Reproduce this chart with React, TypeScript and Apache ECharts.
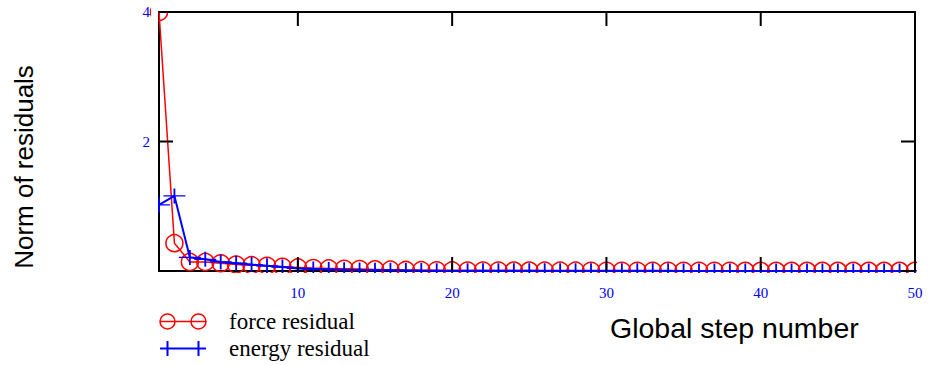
import React, { useEffect, useRef } from "react";
import * as echarts from "echarts";

const steps = [1, 2, 3, 4, 5, 6, 7, 8, 9, 10, 11, 12, 13, 14, 15, 16, 17, 18, 19, 20, 21, 22, 23, 24, 25, 26, 27, 28, 29, 30, 31, 32, 33, 34, 35, 36, 37, 38, 39, 40, 41, 42, 43, 44, 45, 46, 47, 48, 49, 50];

const forceResidual = [
  4.0, 0.43, 0.14, 0.14, 0.12, 0.1, 0.09, 0.08, 0.065, 0.055,
  0.045, 0.04, 0.035, 0.03, 0.025, 0.02, 0.016, 0.013, 0.011, 0.009,
  0.008, 0.007, 0.007, 0.006, 0.006, 0.005, 0.005, 0.005, 0.004, 0.004,
  0.004, 0.004, 0.003, 0.003, 0.003, 0.003, 0.003, 0.003, 0.002, 0.002,
  0.002, 0.002, 0.002, 0.002, 0.002, 0.002, 0.002, 0.002, 0.002, 0.002,
];

const energyResidual = [
  1.02, 1.16, 0.21, 0.18, 0.14, 0.12, 0.1, 0.08, 0.06, 0.04,
  0.03, 0.025, 0.02, 0.015, 0.012, 0.01, 0.008, 0.006, 0.005, 0.004,
  0.004, 0.003, 0.003, 0.003, 0.003, 0.002, 0.002, 0.002, 0.002, 0.002,
  0.002, 0.002, 0.002, 0.002, 0.001, 0.001, 0.001, 0.001, 0.001, 0.001,
  0.001, 0.001, 0.001, 0.001, 0.001, 0.001, 0.001, 0.001, 0.001, 0.001,
];

const xMin = 1;
const xMax = 50;
const yMin = 0;
const yMax = 4;
const xTickValues = [10, 20, 30, 40, 50];
const yTickValues = [0, 2, 4];
const yLabelValues = [2, 4];
const seriesNames = ["force residual", "energy residual"];
const xAxisTitle = "Global step number";
const yAxisTitle = "Norm of residuals";

const RED = "#ff0000";
const BLUE = "#0000ff";
const SERIF = "'Liberation Serif', 'Times New Roman', serif";
const SANS = "'Liberation Sans', Arial, sans-serif";
const TICK_LEN = 14;

const PLUS = "path://M0,7.5L22,7.5M11,0L11,15";
const LEGEND_RED =
  "path://M0,7.5L46,7.5M15,7.5A7.5,7.5,0,1,1,0,7.5A7.5,7.5,0,1,1,15,7.5M46,7.5A7.5,7.5,0,1,1,31,7.5A7.5,7.5,0,1,1,46,7.5M64,7.5L64.01,7.5";
const LEGEND_BLUE = "path://M0,7.5L46,7.5M7.5,0L7.5,15M38.5,0L38.5,15M64,7.5L64.01,7.5";

export default function App() {
  const ref = useRef<HTMLDivElement>(null);

  useEffect(() => {
    if (!ref.current) return;
    const chart = echarts.init(ref.current, undefined, { renderer: "svg" });

    const axisLine = { show: true, onZero: false, lineStyle: { color: "#000", width: 2 } };
    const xAxisBase = {
      type: "value" as const,
      min: xMin,
      max: xMax,
      splitLine: { show: false },
      axisLine,
      axisTick: { show: false },
    };
    const yAxisBase = {
      type: "value" as const,
      min: yMin,
      max: yMax,
      interval: 2,
      splitLine: { show: false },
      axisLine,
      axisTick: { show: false },
    };

    const tickLine = (x1: number, y1: number, x2: number, y2: number) => ({
      type: "line",
      shape: { x1, y1, x2, y2 },
      style: { stroke: "#000", lineWidth: 2 },
    });

    const option: any = {
      animation: false,
      backgroundColor: "#fff",
      grid: { left: 159, right: 15, top: 12, bottom: 94, containLabel: false },
      xAxis: [
        {
          ...xAxisBase,
          position: "bottom",
          axisLabel: {
            show: true,
            customValues: xTickValues,
            margin: 14,
            color: BLUE,
            fontSize: 15,
            fontFamily: SERIF,
          },
        },
        { ...xAxisBase, position: "top", axisLabel: { show: false } },
      ],
      yAxis: [
        {
          ...yAxisBase,
          position: "left",
          axisLabel: {
            show: true,
            customValues: yLabelValues,
            margin: 9,
            color: BLUE,
            fontSize: 15,
            fontFamily: SERIF,
          },
        },
        { ...yAxisBase, position: "right", axisLabel: { show: false } },
      ],
      legend: {
        orient: "vertical",
        left: 159,
        top: 310,
        padding: 0,
        itemGap: 4,
        itemWidth: 64,
        itemHeight: 15,
        textStyle: { fontFamily: SERIF, fontSize: 23, color: "#000" },
        data: [
          {
            name: seriesNames[0],
            icon: LEGEND_RED,
            itemStyle: { color: "rgba(0,0,0,0)", borderColor: RED, borderWidth: 1.5 },
          },
          {
            name: seriesNames[1],
            icon: LEGEND_BLUE,
            itemStyle: { color: "rgba(0,0,0,0)", borderColor: BLUE, borderWidth: 2 },
          },
        ],
      },
      series: [
        {
          name: seriesNames[0],
          type: "line",
          xAxisIndex: 0,
          yAxisIndex: 0,
          data: steps.map((s, i) => [s, forceResidual[i]]),
          symbol: "circle",
          symbolSize: 17,
          showSymbol: true,
          showAllSymbol: true,
          lineStyle: { color: RED, width: 1.5 },
          itemStyle: { color: "rgba(0,0,0,0)", borderColor: RED, borderWidth: 1.5 },
          z: 3,
        },
        {
          name: seriesNames[1],
          type: "line",
          xAxisIndex: 0,
          yAxisIndex: 0,
          data: steps.map((s, i) => [s, energyResidual[i]]),
          symbol: PLUS,
          symbolSize: [22, 15],
          showSymbol: true,
          showAllSymbol: true,
          lineStyle: { color: BLUE, width: 2 },
          itemStyle: { color: "rgba(0,0,0,0)", borderColor: BLUE, borderWidth: 1.5 },
          z: 4,
        },
        {
          id: "xTicks",
          type: "custom",
          xAxisIndex: 0,
          yAxisIndex: 0,
          silent: true,
          z: 5,
          data: xTickValues.map((v) => [v, yMin]),
          renderItem: (params: any, api: any) => {
            const v = api.value(0);
            const b = api.coord([v, yMin]);
            const t = api.coord([v, yMax]);
            return {
              type: "group",
              children: [
                tickLine(b[0], b[1], b[0], b[1] - TICK_LEN),
                tickLine(t[0], t[1], t[0], t[1] + TICK_LEN),
              ],
            };
          },
        },
        {
          id: "yTicks",
          type: "custom",
          xAxisIndex: 0,
          yAxisIndex: 0,
          silent: true,
          z: 5,
          data: yTickValues.map((v) => [xMin, v]),
          renderItem: (params: any, api: any) => {
            const v = api.value(1);
            const l = api.coord([xMin, v]);
            const r = api.coord([xMax, v]);
            return {
              type: "group",
              children: [
                tickLine(l[0], l[1], l[0] + TICK_LEN, l[1]),
                tickLine(r[0], r[1], r[0] - TICK_LEN, r[1]),
              ],
            };
          },
        },
      ],
      graphic: [
        { type: "rect", z: 100, silent: true, shape: { x: 140, y: 273, width: 790, height: 8 }, style: { fill: "#fff" } },
        { type: "rect", z: 100, silent: true, shape: { x: 151, y: 0, width: 779, height: 11 }, style: { fill: "#fff" } },
        { type: "rect", z: 100, silent: true, shape: { x: 151, y: 0, width: 7, height: 24 }, style: { fill: "#fff" } },
        { type: "rect", z: 100, silent: true, shape: { x: 145, y: 190, width: 13, height: 90 }, style: { fill: "#fff" } },
        { type: "rect", z: 100, silent: true, shape: { x: 917, y: 0, width: 13, height: 281 }, style: { fill: "#fff" } },
        {
          type: "text",
          z: 100,
          x: 610,
          y: 328,
          style: {
            text: xAxisTitle,
            fontFamily: SANS,
            fontSize: 28.5,
            fill: "#000",
            align: "left",
            verticalAlign: "middle",
            textAlign: "left",
            textVerticalAlign: "middle",
          },
        },
        {
          type: "text",
          z: 100,
          x: 24,
          y: 167,
          rotation: Math.PI / 2,
          style: {
            text: yAxisTitle,
            fontFamily: SANS,
            fontSize: 26,
            fill: "#000",
            align: "center",
            verticalAlign: "middle",
            textAlign: "center",
            textVerticalAlign: "middle",
          },
        },
      ],
    };

    chart.setOption(option);
    return () => chart.dispose();
  }, []);

  return <div ref={ref} style={{ width: 930, height: 365, position: "absolute", left: 0, top: 0 }} />;
}
